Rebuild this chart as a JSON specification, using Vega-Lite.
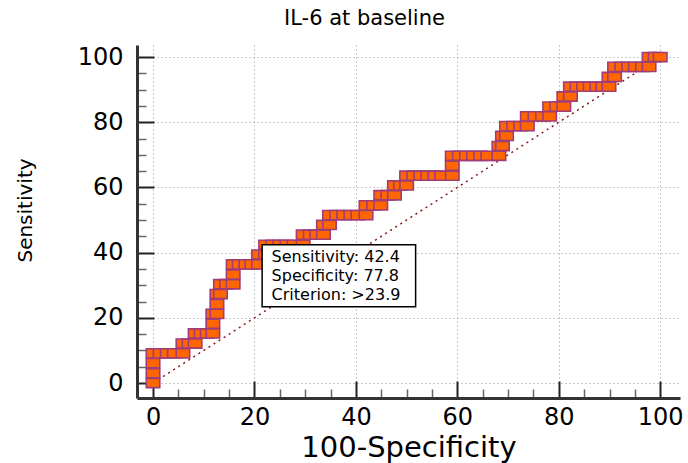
{
  "$schema": "https://vega.github.io/schema/vega-lite/v6.json",
  "width": 543,
  "height": 353,
  "autosize": {"type": "none"},
  "padding": {"left": 137, "top": 45, "right": 8, "bottom": 65},
  "background": "white",
  "title": {"text": "IL-6 at baseline", "font": "DejaVu Sans", "fontSize": 21, "fontWeight": "normal", "color": "#000", "dx": -44, "offset": 16},
  "config": {"view": {"stroke": null}},
  "datasets": {
    "roc": [
      {"fpr":0,"sens":0},{"fpr":0,"sens":3.0},{"fpr":0,"sens":6.1},
      {"fpr":0,"sens":9.1},{"fpr":1.4,"sens":9.1},{"fpr":2.8,"sens":9.1},{"fpr":4.2,"sens":9.1},{"fpr":5.9,"sens":9.1},
      {"fpr":5.9,"sens":12.1},{"fpr":7.1,"sens":12.1},{"fpr":8.3,"sens":12.1},
      {"fpr":8.3,"sens":15.2},{"fpr":9.5,"sens":15.2},{"fpr":10.7,"sens":15.2},{"fpr":11.8,"sens":15.2},
      {"fpr":11.8,"sens":18.2},
      {"fpr":11.8,"sens":21.2},{"fpr":12.6,"sens":21.2},
      {"fpr":12.6,"sens":24.2},
      {"fpr":12.6,"sens":27.3},{"fpr":13.3,"sens":27.3},
      {"fpr":13.3,"sens":30.3},{"fpr":14.5,"sens":30.3},{"fpr":15.8,"sens":30.3},
      {"fpr":15.8,"sens":33.3},
      {"fpr":15.8,"sens":36.4},{"fpr":17.0,"sens":36.4},{"fpr":18.3,"sens":36.4},{"fpr":19.5,"sens":36.4},{"fpr":20.8,"sens":36.4},
      {"fpr":20.8,"sens":39.4},{"fpr":22.2,"sens":39.4},
      {"fpr":22.2,"sens":42.4},{"fpr":23.6,"sens":42.4},{"fpr":25.0,"sens":42.4},{"fpr":26.4,"sens":42.4},{"fpr":27.8,"sens":42.4},{"fpr":29.6,"sens":42.4},
      {"fpr":29.6,"sens":45.5},{"fpr":31.0,"sens":45.5},{"fpr":32.3,"sens":45.5},{"fpr":33.6,"sens":45.5},
      {"fpr":33.6,"sens":48.5},{"fpr":34.8,"sens":48.5},
      {"fpr":34.8,"sens":51.5},{"fpr":36.2,"sens":51.5},{"fpr":37.6,"sens":51.5},{"fpr":39.0,"sens":51.5},{"fpr":40.4,"sens":51.5},{"fpr":42.0,"sens":51.5},
      {"fpr":42.0,"sens":54.5},{"fpr":43.5,"sens":54.5},{"fpr":44.9,"sens":54.5},
      {"fpr":44.9,"sens":57.6},{"fpr":46.3,"sens":57.6},{"fpr":47.6,"sens":57.6},
      {"fpr":47.6,"sens":60.6},{"fpr":48.8,"sens":60.6},{"fpr":50.0,"sens":60.6},
      {"fpr":50.0,"sens":63.6},{"fpr":51.4,"sens":63.6},{"fpr":52.8,"sens":63.6},{"fpr":54.2,"sens":63.6},{"fpr":55.6,"sens":63.6},{"fpr":56.9,"sens":63.6},{"fpr":59.0,"sens":63.6},
      {"fpr":59.0,"sens":66.7},
      {"fpr":59.0,"sens":69.7},{"fpr":60.4,"sens":69.7},{"fpr":61.8,"sens":69.7},{"fpr":63.2,"sens":69.7},{"fpr":64.6,"sens":69.7},{"fpr":66.0,"sens":69.7},{"fpr":68.2,"sens":69.7},
      {"fpr":68.2,"sens":72.7},{"fpr":68.9,"sens":72.7},
      {"fpr":68.9,"sens":75.8},{"fpr":69.7,"sens":75.8},
      {"fpr":69.7,"sens":78.8},{"fpr":71.1,"sens":78.8},{"fpr":72.5,"sens":78.8},{"fpr":73.8,"sens":78.8},
      {"fpr":73.8,"sens":81.8},{"fpr":75.3,"sens":81.8},{"fpr":76.8,"sens":81.8},{"fpr":78.2,"sens":81.8},
      {"fpr":78.2,"sens":84.8},{"fpr":79.6,"sens":84.8},{"fpr":81.0,"sens":84.8},
      {"fpr":81.0,"sens":87.9},{"fpr":82.3,"sens":87.9},
      {"fpr":82.3,"sens":90.9},{"fpr":83.6,"sens":90.9},{"fpr":84.9,"sens":90.9},{"fpr":86.2,"sens":90.9},{"fpr":87.5,"sens":90.9},{"fpr":88.7,"sens":90.9},{"fpr":89.9,"sens":90.9},
      {"fpr":89.9,"sens":93.9},{"fpr":91.0,"sens":93.9},
      {"fpr":91.0,"sens":97.0},{"fpr":92.4,"sens":97.0},{"fpr":93.8,"sens":97.0},{"fpr":95.1,"sens":97.0},{"fpr":96.5,"sens":97.0},{"fpr":97.8,"sens":97.0},
      {"fpr":97.8,"sens":100},{"fpr":99.0,"sens":100},{"fpr":100,"sens":100}
    ],
    "diag": [{"fpr":0,"sens":0},{"fpr":100,"sens":100}],
    "crit": [{"fpr":22.2,"sens":42.4,"label":"Sensitivity: 42.4\nSpecificity: 77.8\nCriterion: >23.9"}]
  },
  "layer": [
    {
      "data": {"name": "diag"},
      "mark": {"type": "line", "color": "#8B1A1A", "strokeWidth": 1.5, "strokeDash": [2, 4]},
      "encoding": {
        "x": {"field": "fpr", "type": "quantitative", "scale": {"domain": [-3.16, 103.9], "nice": false, "zero": false},
          "axis": {"orient": "bottom", "values": [5,10,15,25,30,35,45,50,55,65,70,75,85,90,95], "tickSize": -9, "tickWidth": 1.5, "tickColor": "#666", "domain": false, "labels": false, "grid": false, "title": null}},
        "y": {"field": "sens", "type": "quantitative", "scale": {"domain": [-4.6, 103.7], "nice": false, "zero": false},
          "axis": {"orient": "left", "values": [5,10,15,25,30,35,45,50,55,65,70,75,85,90,95], "tickSize": -9, "tickWidth": 1.5, "tickColor": "#666", "domain": false, "labels": false, "grid": false, "title": null}}
      }
    },
    {
      "data": {"name": "roc"},
      "mark": {"type": "line", "color": "#6B2C8F", "strokeWidth": 2},
      "encoding": {
        "x": {"field": "fpr", "type": "quantitative",
          "axis": {"orient": "bottom", "values": [0,20,40,60,80,100], "tickSize": -17, "tickWidth": 2, "tickColor": "#222", "domainColor": "#333", "domainWidth": 3, "grid": true, "gridColor": "#999", "gridDash": [1, 3], "gridWidth": 1, "labelFont": "DejaVu Sans", "labelFontSize": 24, "labelColor": "#000", "labelPadding": 24, "labelFlush": false, "labelOverlap": false, "title": "100-Specificity", "titleFont": "DejaVu Sans", "titleFontSize": 29, "titleFontWeight": "normal", "titleColor": "#000", "titlePadding": 4}},
        "y": {"field": "sens", "type": "quantitative",
          "axis": {"orient": "left", "values": [0,20,40,60,80,100], "tickSize": -17, "tickWidth": 2, "tickColor": "#222", "domainColor": "#333", "domainWidth": 3, "grid": true, "gridColor": "#999", "gridDash": [1, 3], "gridWidth": 1, "labelFont": "DejaVu Sans", "labelFontSize": 24, "labelColor": "#000", "labelPadding": 31, "labelFlush": false, "labelOverlap": false, "title": "Sensitivity", "titleFont": "DejaVu Sans", "titleFontSize": 20, "titleFontWeight": "normal", "titleColor": "#000", "titlePadding": 42, "titleY": 165}}
      }
    },
    {
      "data": {"name": "roc"},
      "mark": {"type": "point", "shape": "M-1,-0.68L1,-0.68L1,0.68L-1,0.68Z", "size": 182, "filled": true, "fill": "#FF6600", "stroke": "#A03C78", "strokeWidth": 1.6, "opacity": 1},
      "encoding": {
        "x": {"field": "fpr", "type": "quantitative", "axis": null},
        "y": {"field": "sens", "type": "quantitative", "axis": null}
      }
    },
    {
      "data": {"name": "crit"},
      "mark": {"type": "point", "shape": "M-0.07,0L3.0,0L3.0,1.24L-0.07,1.24Z", "size": 10000, "filled": true, "fill": "white", "stroke": "#000", "strokeWidth": 1.5, "opacity": 1},
      "encoding": {
        "x": {"field": "fpr", "type": "quantitative", "axis": null},
        "y": {"field": "sens", "type": "quantitative", "axis": null}
      }
    },
    {
      "data": {"name": "crit"},
      "mark": {"type": "text", "align": "left", "baseline": "top", "dx": 6, "dy": 4, "font": "DejaVu Sans", "fontSize": 16, "lineBreak": "\n", "lineHeight": 19, "color": "#000"},
      "encoding": {
        "x": {"field": "fpr", "type": "quantitative", "axis": null},
        "y": {"field": "sens", "type": "quantitative", "axis": null},
        "text": {"field": "label"}
      }
    }
  ],
  "resolve": {"axis": {"x": "independent", "y": "independent"}}
}
